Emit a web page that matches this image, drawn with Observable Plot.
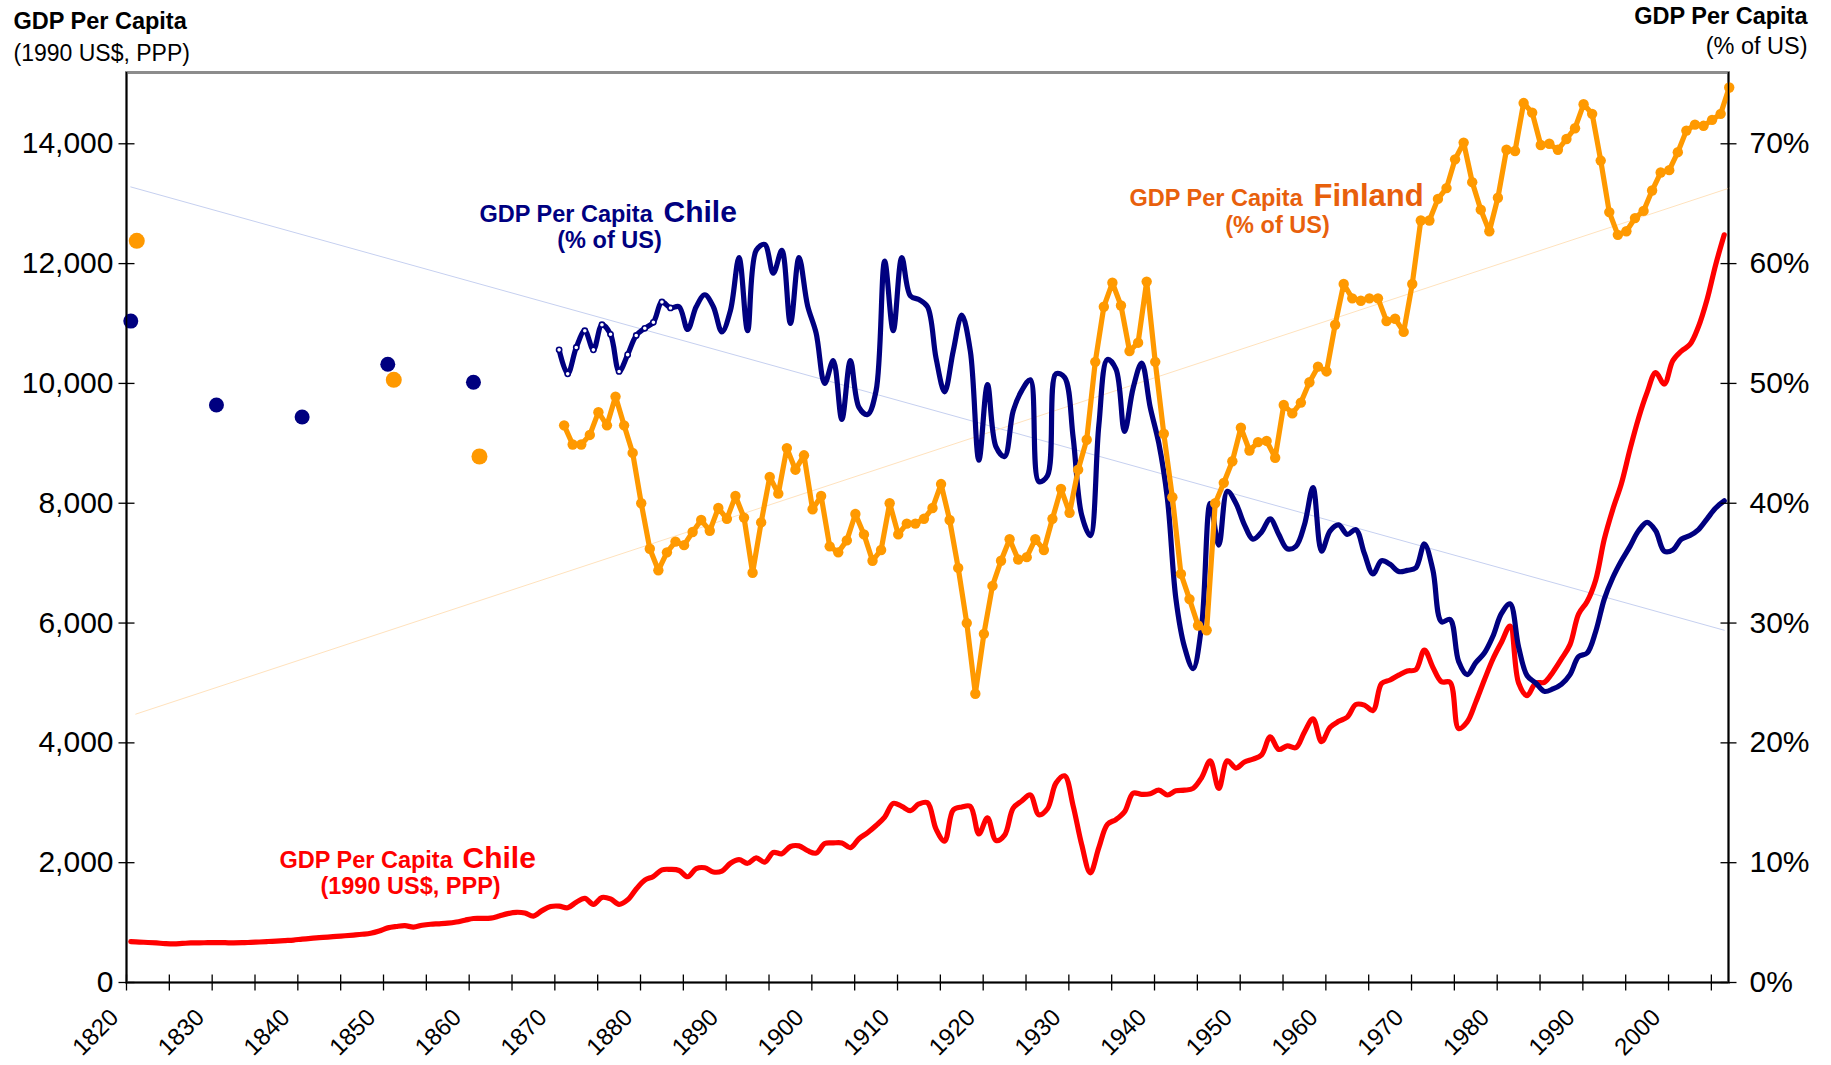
<!DOCTYPE html>
<html>
<head>
<meta charset="utf-8">
<script src="https://cdn.jsdelivr.net/npm/d3@7"></script>
<script src="https://cdn.jsdelivr.net/npm/@observablehq/plot@0.6"></script>
<style>
  html, body { margin: 0; padding: 0; background: #ffffff; }
  #chart svg { display: block; }
</style>
</head>
<body>
<div id="chart"></div>
<script>
// ---------------- DATA ----------------
// Chile GDP per capita (1990 US$, PPP), annual 1820-2006 (left axis)
const chileGdpFirstYear = 1820;
const chileGdp = [
  681, 675, 668, 660, 650, 645, 652, 660, 662, 664,
  665, 664, 662, 664, 670, 676, 684, 692, 700, 708,
  725, 738, 748, 758, 770, 780, 792, 805, 822, 860,
  912, 935, 948, 925, 955, 972, 980, 990, 1010, 1040,
  1068, 1070, 1075, 1110, 1150, 1172, 1160, 1108, 1200, 1268,
  1275, 1248, 1340, 1405, 1305, 1420, 1395, 1305, 1380, 1560,
  1710, 1770, 1880, 1888, 1870, 1765, 1900, 1915, 1845, 1860,
  1990, 2050, 1990, 2080, 2010, 2170, 2150, 2270, 2280, 2200,
  2160, 2320, 2330, 2330, 2250, 2400, 2500, 2620, 2760, 2990,
  2940, 2870, 2980, 3000, 2560, 2360, 2880, 2930, 2940, 2480,
  2750, 2370, 2460, 2910, 3030, 3130, 2800, 2900, 3330, 3450,
  2950, 2300, 1830, 2250, 2640, 2720, 2850, 3160, 3140, 3150,
  3210, 3130, 3200, 3210, 3240, 3420, 3700, 3240, 3700, 3580,
  3680, 3730, 3800, 4100, 3890, 3950, 3920, 4180, 4400, 4020,
  4260, 4360, 4430, 4640, 4630, 4540, 4990, 5050, 5130, 5200,
  5220, 5550, 5260, 5020, 5010, 4240, 4350, 4680, 5050, 5400,
  5680, 5950, 5000, 4790, 5000, 5010, 5180, 5400, 5640, 6150,
  6360, 6720, 7400, 7900, 8330, 8900, 9420, 9850, 10180, 9990,
  10380, 10540, 10650, 10950, 11400, 11980, 12480
];

// Benchmark years before the annual series (% of US)
const chilePctEarlyYears = [1820, 1830, 1840, 1850, 1860];
const chilePctEarly = [55.2, 48.2, 47.2, 51.6, 50.1];
const finlandPctEarlyYears = [1820, 1850, 1860];
const finlandPctEarly = [61.9, 50.3, 43.9];

// Annual % of US series, 1870-2006 (right axis)
const pctFirstYear = 1870;
const chilePct = [
  52.8, 50.8, 53.0, 54.4, 52.8, 54.9, 54.1, 51.0, 52.4, 54.0,
  54.6, 55.1, 56.8, 56.3, 56.4, 54.5, 56.4, 57.4, 56.4, 54.3,
  56.1, 60.5, 54.4, 61.1, 61.6, 59.2, 61.1, 55.0, 60.5, 56.5,
  54.2, 50.0, 51.9, 47.0, 51.9, 48.0, 47.4, 49.4, 60.2, 54.4,
  60.5, 57.3, 57.0, 56.4, 52.1, 49.3, 52.7, 55.7, 52.7, 43.6,
  49.9, 44.7, 43.9, 47.7, 49.4, 50.3, 41.8, 42.3, 50.8, 50.5,
  45.5, 39.0, 37.3, 46.5, 52.0, 51.2, 46.0, 49.6, 51.7, 48.0,
  45.0, 40.4, 32.0, 28.0, 26.2, 29.8, 40.0, 36.5, 41.0, 40.0,
  38.2, 37.0, 37.6, 38.7, 37.4, 36.2, 36.4, 38.2, 41.3, 36.0,
  37.7, 38.2, 37.4, 37.8, 35.8, 34.1, 35.2, 34.9, 34.3, 34.4,
  34.6, 36.6, 34.4, 30.1, 30.3, 26.8, 25.7, 26.7, 27.5, 28.9,
  30.8, 31.6, 28.0, 25.6, 25.0, 24.3, 24.5, 24.9, 25.7, 27.2,
  27.5, 29.3, 32.0, 33.8, 35.2, 36.4, 37.7, 38.4, 37.7, 36.0,
  36.1, 37.0, 37.3, 37.8, 38.7, 39.6, 40.2
];
const finlandPct = [
  46.5, 44.9, 44.9, 45.7, 47.6, 46.5, 48.9, 46.5, 44.2, 40.0,
  36.2, 34.4, 35.9, 36.8, 36.5, 37.6, 38.6, 37.7, 39.6, 38.7,
  40.6, 38.8, 34.2, 38.4, 42.2, 40.8, 44.6, 42.8, 44.0, 39.5,
  40.6, 36.4, 35.9, 36.9, 39.1, 37.4, 35.2, 36.1, 40.0, 37.4,
  38.3, 38.3, 38.7, 39.6, 41.6, 38.6, 34.6, 30.0, 24.1, 29.1,
  33.1, 35.2, 37.0, 35.3, 35.5, 37.0, 36.1, 38.7, 41.2, 39.2,
  42.8, 45.3, 51.8, 56.4, 58.4, 56.5, 52.7, 53.4, 58.5, 51.8,
  45.8, 40.5, 34.1, 32.0, 29.8, 29.4, 40.0, 41.7, 43.5, 46.3,
  44.4, 45.1, 45.2, 43.8, 48.2, 47.5, 48.4, 50.1, 51.4, 51.0,
  54.9, 58.3, 57.1, 56.9, 57.1, 57.1, 55.2, 55.4, 54.3, 58.3,
  63.6, 63.6, 65.4, 66.3, 68.7, 70.1, 66.8, 64.5, 62.7, 65.5,
  69.5, 69.4, 73.4, 72.6, 69.9, 70.0, 69.5, 70.4, 71.3, 73.3,
  72.5, 68.6, 64.3, 62.4, 62.7, 63.8, 64.4, 66.1, 67.6, 67.8,
  69.3, 71.1, 71.6, 71.5, 72.0, 72.5, 74.7
];

// Linear trend lines (% of US), end points
const chileTrendYears = [1820, 2006];
const chileTrendPct = [66.4, 29.4];
const finlandTrendYears = [1820, 2006];
const finlandTrendPct = [22.4, 66.3];

// Axes
const leftTicks = [0, 2000, 4000, 6000, 8000, 10000, 12000, 14000];
const rightTicks = [0, 10, 20, 30, 40, 50, 60, 70];
const xLabelYears = [1820, 1830, 1840, 1850, 1860, 1870, 1880, 1890, 1900, 1910,
                     1920, 1930, 1940, 1950, 1960, 1970, 1980, 1990, 2000];
const xTickYears = d3.range(1820, 2006, 5);
const firstYear = 1820, lastYear = 2006;
const yMax = 15190;
const pctToLeft = 200; // 70% on the right axis sits level with 14,000 on the left

// ---------------- TABLES ----------------
const redRows = chileGdp.map((v, i) => ({year: chileGdpFirstYear + i, v}));
const navyRows = chilePct.map((p, i) => ({year: pctFirstYear + i, v: p * pctToLeft}));
const orangeRows = finlandPct.map((p, i) => ({year: pctFirstYear + i, v: p * pctToLeft}));
const navyEarlyRows = chilePctEarly.map((p, i) => ({year: chilePctEarlyYears[i], v: p * pctToLeft}));
const orangeEarlyRows = finlandPctEarly.map((p, i) => ({year: finlandPctEarlyYears[i], v: p * pctToLeft}));
const navyTrendRows = chileTrendPct.map((p, i) => ({year: chileTrendYears[i], v: p * pctToLeft}));
const orangeTrendRows = finlandTrendPct.map((p, i) => ({year: finlandTrendYears[i], v: p * pctToLeft}));

// ---------------- STYLE ----------------
const NAVY = "#000080", ORANGE = "#ff9900", RED = "#ff0000", FINLAND_TXT = "#e8600c";
const FONT = "'Liberation Sans', Arial, Helvetica, sans-serif";
const hTick = {draw(ctx) { ctx.moveTo(-8, 0); ctx.lineTo(8, 0); }};
const vTick = {draw(ctx) { ctx.moveTo(0, -8); ctx.lineTo(0, 8); }};
const xLeft = firstYear - 0.5, xRight = lastYear + 0.5;

const note = (txt, dx, dy, o = {}) => Plot.text([txt], {
  text: d => d, frameAnchor: "top-left", dx, dy, lineAnchor: "bottom",
  textAnchor: "start", fontWeight: "bold", fontSize: 23.5, ...o
});

const chart = Plot.plot({
  width: 1831,
  height: 1065,
  marginLeft: 126,
  marginRight: 103,
  marginTop: 72,
  marginBottom: 83,
  style: {fontFamily: FONT, background: "#ffffff", color: "#000"},
  x: {domain: [xLeft, xRight], axis: null},
  y: {domain: [0, yMax], axis: null},
  marks: [
    Plot.frame({stroke: "#8c8c8c", strokeWidth: 3}),
    // trend lines
    Plot.line(navyTrendRows, {x: "year", y: "v", stroke: "#c6d0f0", strokeWidth: 1}),
    Plot.line(orangeTrendRows, {x: "year", y: "v", stroke: "#ffe2bd", strokeWidth: 1, dx: 5}),
    // Chile GDP per capita
    Plot.line(redRows, {x: "year", y: "v", stroke: RED, strokeWidth: 5.2, curve: "catmull-rom"}),
    // Chile % of US
    Plot.line(navyRows, {x: "year", y: "v", stroke: NAVY, strokeWidth: 5.2, curve: "catmull-rom"}),
    Plot.dot(navyRows.filter(d => d.year <= 1883), {x: "year", y: "v", r: 2.6, fill: "#ffffff", stroke: NAVY, strokeWidth: 1.6}),
    Plot.dot(navyEarlyRows, {x: "year", y: "v", r: 7.5, fill: NAVY}),
    // Finland % of US
    Plot.line(orangeRows, {x: "year", y: "v", stroke: ORANGE, strokeWidth: 5.2, dx: 5}),
    Plot.dot(orangeRows, {x: "year", y: "v", r: 5.2, fill: ORANGE, dx: 5}),
    Plot.dot(orangeEarlyRows, {x: "year", y: "v", r: 8, fill: ORANGE, dx: 6}),
    // axis lines
    Plot.ruleX([xLeft], {stroke: "#000", strokeWidth: 1.6}),
    Plot.ruleX([xRight], {stroke: "#000", strokeWidth: 1.6}),
    Plot.ruleY([0], {stroke: "#000", strokeWidth: 1.6}),
    // ticks
    Plot.dot(leftTicks, {x: () => xLeft, y: d => d, symbol: hTick, fill: "none", stroke: "#000", strokeWidth: 1.3}),
    Plot.dot(rightTicks, {x: () => xRight, y: d => d * pctToLeft, symbol: hTick, fill: "none", stroke: "#000", strokeWidth: 1.3}),
    Plot.dot(xTickYears, {x: d => d - 0.5, y: () => 0, symbol: vTick, fill: "none", stroke: "#000", strokeWidth: 1.3}),
    // tick labels
    Plot.text(leftTicks, {x: () => xLeft, y: d => d, text: d => d3.format(",")(d), textAnchor: "end", dx: -13, fontSize: 30}),
    Plot.text(rightTicks, {x: () => xRight, y: d => d * pctToLeft, text: d => d + "%", textAnchor: "start", dx: 21, fontSize: 30}),
    Plot.text(xLabelYears, {x: d => d - 0.5, y: () => 0, text: d => String(d), rotate: -45, textAnchor: "end", dx: -12, dy: 31, fontSize: 24}),
    // axis titles
    note("GDP Per Capita", -113, -44),
    note("(1990 US$, PPP)", -113, -12, {fontWeight: "normal", fontSize: 23}),
    Plot.text(["GDP Per Capita"], {text: d => d, frameAnchor: "top-right", dx: 79, dy: -49, lineAnchor: "bottom", textAnchor: "end", fontWeight: "bold", fontSize: 23.5}),
    Plot.text(["(% of US)"], {text: d => d, frameAnchor: "top-right", dx: 79, dy: -19, lineAnchor: "bottom", textAnchor: "end", fontSize: 23.5}),
    // series labels
    note("GDP Per Capita", 353, 149, {fill: NAVY}),
    note("Chile", 537, 149, {fill: NAVY, fontSize: 30}),
    note("(% of US)", 483, 175, {fill: NAVY, textAnchor: "middle"}),
    note("GDP Per Capita", 1003, 133, {fill: FINLAND_TXT}),
    note("Finland", 1187, 133, {fill: FINLAND_TXT, fontSize: 31}),
    note("(% of US)", 1151, 160, {fill: FINLAND_TXT, textAnchor: "middle"}),
    note("GDP Per Capita", 153, 795, {fill: RED}),
    note("Chile", 336, 795, {fill: RED, fontSize: 30}),
    note("(1990 US$, PPP)", 284, 821, {fill: RED, textAnchor: "middle"})
  ]
});

document.getElementById("chart").appendChild(chart);
</script>
</body>
</html>
